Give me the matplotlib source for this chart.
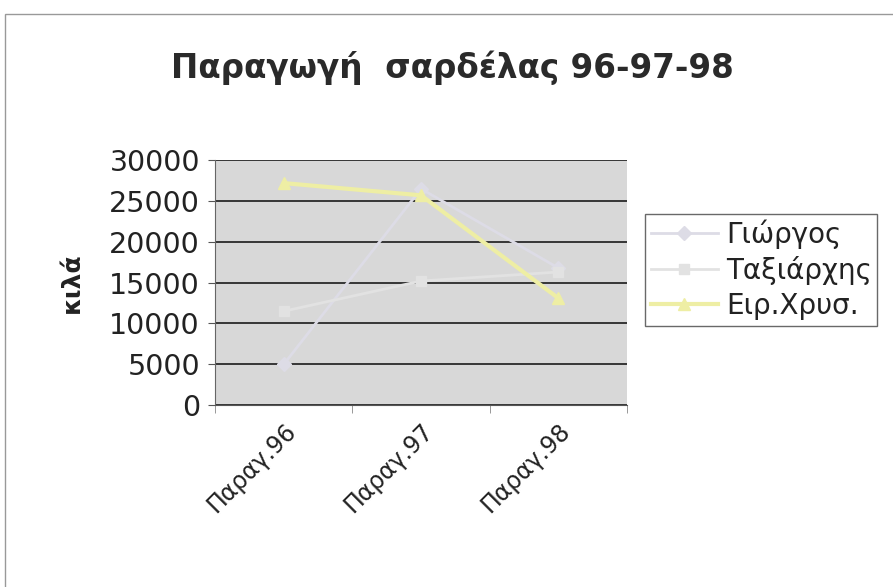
import matplotlib.pyplot as plt
from matplotlib.patches import Rectangle

categories = ['Παραγ.96', 'Παραγ.97', 'Παραγ.98']
giorgos = [5000, 26500, 16800]
taxiarchis = [11500, 15200, 16300]
eir_chrys = [27200, 25700, 13100]
yticks = [0, 5000, 10000, 15000, 20000, 25000, 30000]

plt.rcParams['font.family'] = ['DejaVu Sans']

fig = plt.figure(figsize=(8.93, 5.87), dpi=100)
ax = fig.add_axes([0.241, 0.31, 0.461, 0.417])
ax.set_facecolor('#d8d8d8')

x = range(len(categories))
ax.plot(x, giorgos, color='#dddce6', lw=2, marker='D', ms=7, label='Γιώργος', zorder=3)
ax.plot(x, taxiarchis, color='#e2e2e2', lw=2, marker='s', ms=7, label='Ταξιάρχης', zorder=3)
ax.plot(x, eir_chrys, color='#eeeea4', lw=3, marker='^', ms=9, label='Ειρ.Χρυσ.', zorder=4)

ax.set_xlim(-0.5, 2.5)
ax.set_ylim(0, 30000)
ax.set_yticks(yticks)
ax.set_yticklabels([str(v) for v in yticks], fontsize=20.5, color='#222222')
ax.yaxis.grid(True, color='#2a2a2a', lw=1.3)
ax.set_axisbelow(True)

# category ticks between categories, labels at centres
ax.set_xticks(list(x))
ax.set_xticklabels(categories, rotation=45, ha='right', va='top',
                   rotation_mode='anchor', fontsize=17, color='#222222')
ax.tick_params(axis='x', which='major', length=0, pad=10)
ax.set_xticks([-0.5, 0.5, 1.5, 2.5], minor=True)
ax.tick_params(axis='x', which='minor', length=6, color='#888888')
ax.tick_params(axis='y', length=5, color='#555555', pad=6)

for s in ['top', 'right']:
    ax.spines[s].set_visible(False)
ax.spines['left'].set_color('#666666')
ax.spines['bottom'].set_color('#555555')

ax.set_ylabel('κιλά', fontsize=18, fontweight='bold', labelpad=18, color='#222222')

fig.text(0.507, 0.884, 'Παραγωγή  σαρδέλας 96-97-98', ha='center', va='center',
         fontsize=23.5, fontweight='bold', color='#2a2a2a')

leg = ax.legend(loc='upper left', bbox_to_anchor=(1.045, 0.78), fontsize=20,
                frameon=True, fancybox=False, handlelength=2.4,
                borderpad=0.2, labelspacing=0.25, handletextpad=0.3,
                borderaxespad=0, labelcolor='#222222')
leg.get_frame().set_edgecolor('#444444')
leg.get_frame().set_linewidth(1.0)

fig.patches.append(Rectangle((0.006, -0.01), 1.0, 0.987, transform=fig.transFigure,
                             fill=False, edgecolor='#999999', lw=1))

fig.savefig('out.png', dpi=100)
